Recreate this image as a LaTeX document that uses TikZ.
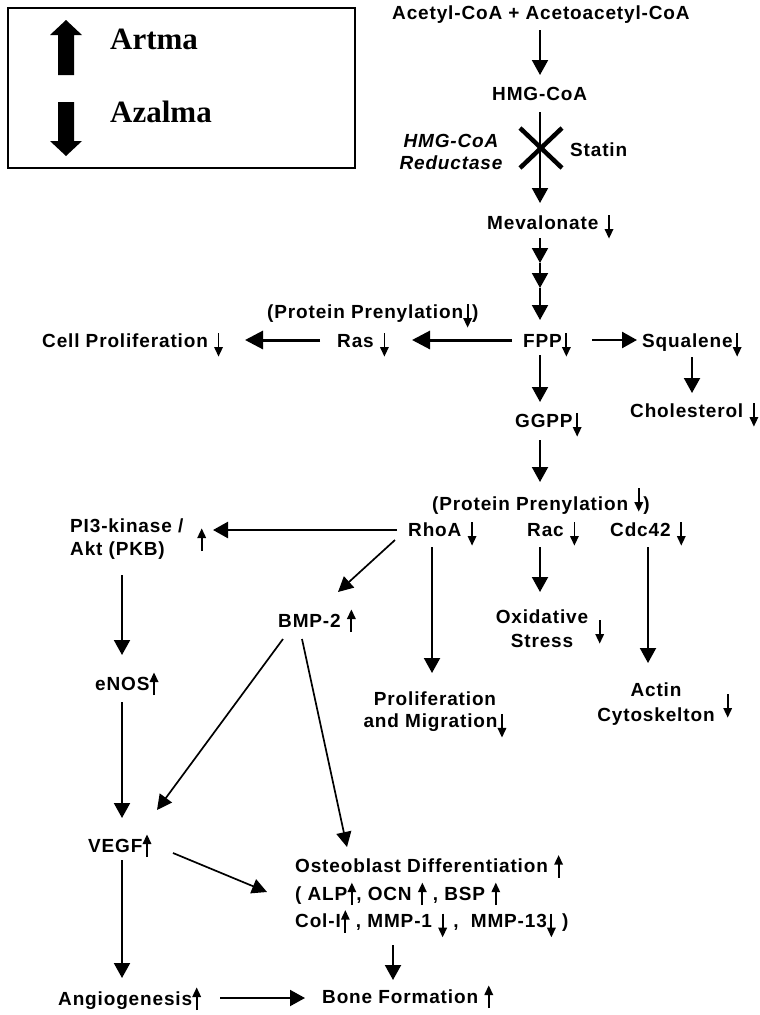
\documentclass[tikz,border=0pt]{standalone}
\usepackage{fontspec}
\usetikzlibrary{arrows.meta,calc}
\newfontfamily\labfont[LetterSpace=4.5]{Liberation Sans}
\newfontfamily\legfont{Liberation Serif}
\newcommand{\dnar}{\tikz[baseline=0pt,x=1pt,y=1pt]{\draw[line width=1.8pt] (0,14)--(0,-1);\fill (-4.5,0)--(4.5,0)--(0,-9.5)--cycle;}}
\newcommand{\upar}{\tikz[baseline=0pt,x=1pt,y=1pt]{\draw[line width=1.8pt] (0,-5)--(0,9);\fill (-4.5,8)--(4.5,8)--(0,17.5)--cycle;}}
\newcommand{\labsize}[1]{\labfont\bfseries\fontsize{19}{#1}\selectfont}
\begin{document}
\begin{tikzpicture}[x=1pt,y=-1pt,
  lab/.style={font=\labsize{22}, inner sep=0pt, anchor=base west},
  leg/.style={font=\legfont\bfseries\fontsize{31}{31}\selectfont, inner sep=0pt, anchor=base west},
  arr/.style={line width=2pt,-{Triangle[length=15pt,width=16pt]}},
  tarr/.style={line width=3pt,-{Triangle[length=18pt,width=18pt]}},
  darr/.style={line width=1.7pt,-{Triangle[length=15pt,width=15pt]}},
  bigarrow/.style={fill=black},
  xmark/.style={line width=4.5pt}
]
\useasboundingbox[fill=white] (0,0) rectangle (760,1015);

% legend
\draw[line width=1.5pt] (8,8) rectangle (355,168);
\fill[bigarrow] (58,75) -- (58,35) -- (50,35) -- (66,20) -- (82,35) -- (74,35) -- (74,75) -- cycle;
\fill[bigarrow] (58,102) -- (74,102) -- (74,141) -- (82,141) -- (66,156) -- (50,141) -- (58,141) -- cycle;
\node[leg] (artma) at (110,49) {Artma};
\node[leg] (azalma) at (110,122) {Azalma};

% nodes
\node[lab] (acetyl) at (392,19) {Acetyl-CoA + Acetoacetyl-CoA};
\node[lab] (hmg) at (492,100) {HMG-CoA};
\node[lab, anchor=north, align=center, font=\labsize{22}\itshape] (red) at (451,134) {HMG-CoA\\Reductase};
\node[lab] (statin) at (570,156) {Statin};
\node[lab] (meva) at (487,229) {Mevalonate \dnar};
\node[lab] (prenyl1) at (267,318) {(Protein Prenylation\dnar)};
\node[lab] (cell) at (42,347) {Cell Proliferation \dnar};
\node[lab] (ras) at (337,347) {Ras \dnar};
\node[lab] (fpp) at (523,347) {FPP\dnar};
\node[lab] (squal) at (642,347) {Squalene\dnar};
\node[lab] (chol) at (630,417) {Cholesterol \dnar};
\node[lab] (ggpp) at (515,427) {GGPP\dnar};
\node[lab] (prenyl2) at (432,510) {(Protein Prenylation \raisebox{8pt}{\dnar})};
\node[lab] (rhoa) at (408,536) {RhoA \dnar};
\node[lab] (rac) at (527,536) {Rac \dnar};
\node[lab] (cdc) at (610,536) {Cdc42 \dnar};
\node[lab, anchor=north west, align=left, font=\labsize{23}] (pi3) at (70,519) {PI3-kinase /\\Akt (PKB)};
\node[lab] (pi3up) at (197,546) {\upar};
\node[lab] (bmp) at (278,627) {BMP-2 \upar};
\node[lab, anchor=north, align=center, font=\labsize{24}] (oxid) at (542,610) {Oxidative\\Stress};
\node[lab] (oxdn) at (595,634) {\dnar};
\node[lab, anchor=north, align=center, font=\labsize{22}] (prolif) at (435,692) {Proliferation\\and Migration\dnar};
\node[lab, anchor=north, align=center, font=\labsize{25}] (actin) at (656,683) {Actin\\Cytoskelton};
\node[lab] (acdn) at (723,708) {\dnar};
\node[lab] (enos) at (95,690) {eNOS\upar};
\node[lab] (vegf) at (88,852) {VEGF\upar};
\node[lab, anchor=north west, align=left, font=\labsize{27.5}] (osteo) at (295,855)
  {Osteoblast Differentiation \upar\\( ALP\upar, OCN \upar{} , BSP \upar\\Col-I\upar{} , MMP-1 \dnar{} ,\ \ MMP-13\dnar{} )};
\node[lab] (angio) at (58,1005) {Angiogenesis\upar};
\node[lab] (bone) at (322,1003) {Bone Formation \upar};

% statin inhibition mark
\coordinate (xc) at (541,148);

% connectors
\draw[arr] ($(acetyl.base west)+(148,11)$) -- ($(hmg.base west)+(48,-25)$);
\draw[arr] ($(hmg.base west)+(48,12)$) -- ($(meva.base west)+(53,-26)$);
\draw[xmark] ($(xc)+(-21,-20)$) -- ($(xc)+(21,20)$);
\draw[xmark] ($(xc)+(21,-20)$) -- ($(xc)+(-21,20)$);
\draw[arr] ($(meva.base west)+(53,9)$) -- ($(meva.base west)+(53,34)$);
\draw[arr] ($(meva.base west)+(53,34)$) -- ($(meva.base west)+(53,59)$);
\draw[arr] ($(meva.base west)+(53,59)$) -- ($(fpp.base west)+(17,-27)$);
\draw[tarr] ($(fpp.base west)+(-11,-7)$) -- ($(ras.base west)+(75,-7)$);
\draw[tarr] ($(ras.base west)+(-17,-7)$) -- ($(cell.base west)+(203,-7)$);
\draw[arr,line width=2.5pt] ($(fpp.base west)+(69,-7)$) -- ($(squal.base west)+(-5,-7)$);
\draw[arr] ($(squal.base west)+(50,10)$) -- ($(chol.base west)+(62,-24)$);
\draw[arr] ($(fpp.base west)+(17,8)$) -- ($(ggpp.base west)+(25,-25)$);
\draw[arr] ($(ggpp.base west)+(25,13)$) -- ($(prenyl2.base west)+(108,-28)$);
\draw[arr] ($(rhoa.base west)+(24,11)$) -- ($(prolif.north)+(-3,-19)$);
\draw[arr] ($(rac.base west)+(13,11)$) -- ($(oxid.north)+(-2,-18)$);
\draw[arr] ($(cdc.base west)+(38,11)$) -- ($(actin.north)+(-8,-20)$);
\draw[arr,line width=2.5pt] ($(rhoa.base west)+(-11,-6)$) -- ($(pi3.north west)+(143,11)$);
\draw[darr] ($(rhoa.base west)+(-13,4)$) -- ($(bmp.base west)+(60,-35)$);
\draw[arr] ($(pi3.north west)+(52,56)$) -- ($(enos.base west)+(27,-35)$);
\draw[arr] ($(enos.base west)+(27,12)$) -- ($(vegf.base west)+(34,-34)$);
\draw[darr] ($(bmp.base west)+(5,12)$) -- ($(vegf.base west)+(69,-42)$);
\draw[darr] ($(bmp.base west)+(24,12)$) -- ($(osteo.north west)+(52,-8)$);
\draw[darr] ($(vegf.base west)+(85,1)$) -- ($(osteo.north west)+(-28,37)$);
\draw[arr] ($(vegf.base west)+(34,8)$) -- ($(angio.base west)+(64,-27)$);
\draw[arr] ($(angio.base west)+(162,-7)$) -- ($(bone.base west)+(-17,-5)$);
\draw[arr] ($(osteo.north west)+(98,90)$) -- ($(bone.base west)+(71,-23)$);
\end{tikzpicture}
\end{document}
